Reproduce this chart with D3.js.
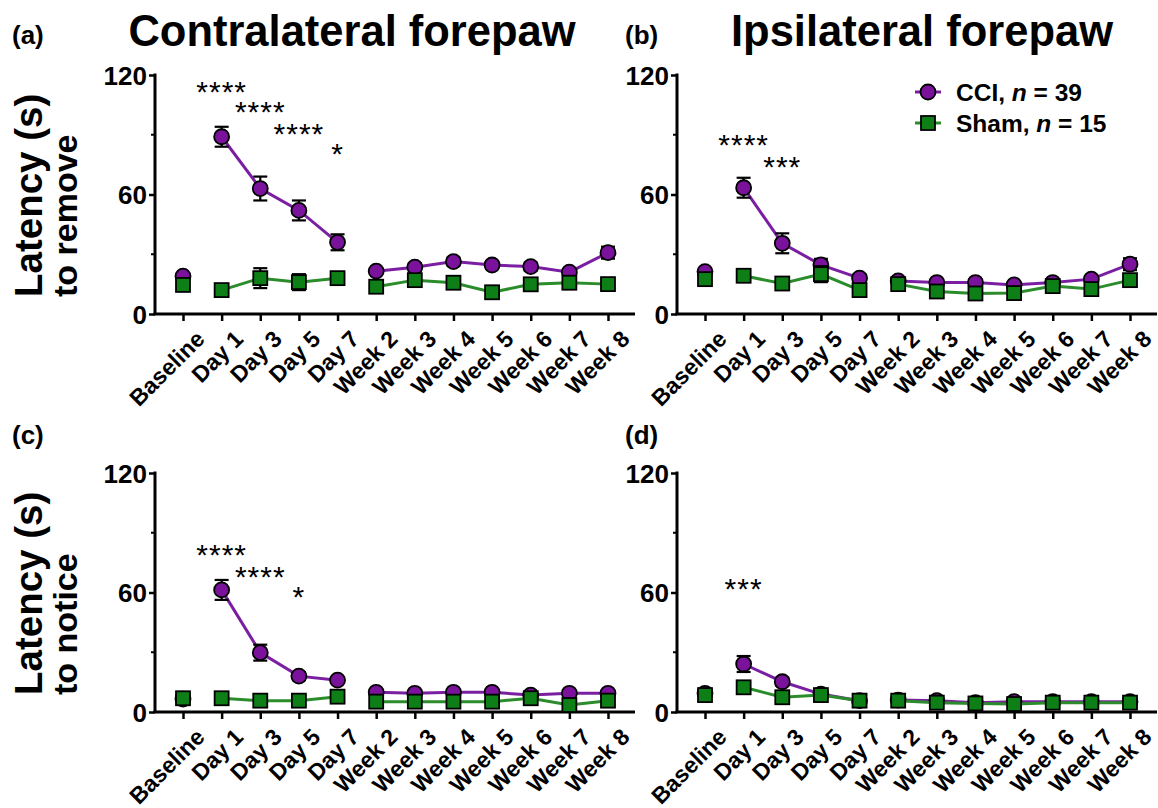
<!DOCTYPE html>
<html>
<head>
<meta charset="utf-8">
<script src="https://cdn.jsdelivr.net/npm/d3@7"></script>
<style>
	body { margin: 0; background: #fff; }
	svg text { font-family: 'Liberation Sans', Arial, sans-serif; font-weight: bold; fill: #000; }
</style>
</head>
<body>
<svg id="chart" width="1158" height="808"></svg>
<script>
const categories = ['Baseline', 'Day 1', 'Day 3', 'Day 5', 'Day 7', 'Week 2', 'Week 3', 'Week 4', 'Week 5', 'Week 6', 'Week 7', 'Week 8'];
const segments = [[0, 0], [1, 4], [5, 11]];
const yTicks = [0, 60, 120];
const yMinorTicks = [30, 90];

// (a) contralateral, latency to remove
const cciA = [19, 89, 63, 52, 36, 21.5, 23.5, 26.3, 24.6, 23.8, 21, 30.8];
const cciAErr = [1.5, 5, 6, 5, 4, 1.5, 2, 2, 2, 2, 1.5, 3];
const shamA = [14.6, 12, 18, 16, 18, 13.7, 17, 15.7, 10.9, 14.9, 15.7, 15];
const shamAErr = [2, 2, 5, 4, 2, 2, 3, 2, 2, 2, 2, 2];
const starsA = [['Day 1', 115.5, '****'], ['Day 3', 105.5, '****'], ['Day 5', 94.5, '****'], ['Day 7', 84.5, '*']];

// (b) ipsilateral, latency to remove
const cciB = [21.3, 63.4, 35.5, 24.7, 18, 16.6, 15.8, 15.8, 14.6, 15.8, 17.5, 25];
const cciBErr = [1.5, 5, 5, 3, 2, 1.5, 1.5, 1.5, 1.5, 1.5, 1.5, 3];
const shamB = [17.5, 19.2, 15.3, 20, 12, 15, 11.3, 10.3, 10.5, 14, 12.5, 17];
const shamBErr = [2, 3, 2, 4, 2, 2, 2, 2, 2, 2, 2, 2];
const starsB = [['Day 1', 89, '****'], ['Day 3', 78, '***']];

// (c) contralateral, latency to notice
const cciC = [6.5, 61.3, 29.8, 18, 16, 9.9, 9.4, 9.9, 9.9, 8.5, 9.4, 9.4];
const cciCErr = [1, 5, 4, 2, 1.5, 1, 1, 1, 1, 1, 1, 1];
const shamC = [6.9, 6.9, 5.7, 5.7, 7.7, 5.2, 5.2, 5.2, 5.2, 6.9, 3.5, 5.7];
const shamCErr = [1, 1, 1, 1, 1.5, 1, 1, 1, 1, 1.5, 1, 1];
const starsC = [['Day 1', 83, '****'], ['Day 3', 72, '****'], ['Day 5', 62, '*']];

// (d) ipsilateral, latency to notice
const cciD = [9.4, 24.1, 15.2, 9, 5.7, 6, 5.7, 4.7, 5.2, 5.2, 5.2, 5.2];
const cciDErr = [1.5, 4, 2, 1, 1, 1, 1, 1, 1, 1, 1, 1];
const shamD = [8.5, 12.4, 7.4, 8.5, 5.7, 5.7, 4.7, 4.3, 4, 4.7, 4.7, 4.7];
const shamDErr = [1.5, 3, 1, 1, 1, 1, 1, 1, 1, 1, 1, 1];
const starsD = [['Day 1', 66, '***']];

const panels = [
	{ left: 155, top: 75, cci: cciA, cciErr: cciAErr, sham: shamA, shamErr: shamAErr, stars: starsA },
	{ left: 677, top: 75, cci: cciB, cciErr: cciBErr, sham: shamB, shamErr: shamBErr, stars: starsB, legend: true },
	{ left: 155, top: 473, cci: cciC, cciErr: cciCErr, sham: shamC, shamErr: shamCErr, stars: starsC },
	{ left: 677, top: 473, cci: cciD, cciErr: cciDErr, sham: shamD, shamErr: shamDErr, stars: starsD },
];

const CCI_FILL = '#7a129c';
const CCI_LINE = '#7b1fa2';
const SHAM_FILL = '#0e7e16';
const SHAM_LINE = '#2b8c2b';
const W = 480, H = 239;

const svg = d3.select('#chart');
const x = d3.scalePoint().domain(categories).range([28, 453]);
const y = d3.scaleLinear().domain([0, 120]).range([H, 0]);

const toPoints = (vals, errs) => vals.map((v, i) => ({ cat: categories[i], v: v, e: errs[i] }));
const line = d3.line().x(d => x(d.cat)).y(d => y(d.v));

function drawSeries(g, pts, lineColor, fill, shape) {
	segments.forEach(([a, b]) => {
		if (b > a) {
			g.append('path')
				.attr('d', line(pts.slice(a, b + 1)))
				.attr('fill', 'none')
				.attr('stroke', lineColor)
				.attr('stroke-width', 3);
		}
	});
	const eb = g.append('g').selectAll('g').data(pts).join('g')
		.attr('stroke', '#000').attr('stroke-width', 2.2);
	eb.append('line')
		.attr('x1', d => x(d.cat)).attr('x2', d => x(d.cat))
		.attr('y1', d => y(d.v - d.e)).attr('y2', d => y(d.v + d.e));
	[-1, 1].forEach(s => {
		eb.append('line')
			.attr('x1', d => x(d.cat) - 7).attr('x2', d => x(d.cat) + 7)
			.attr('y1', d => y(d.v + s * d.e)).attr('y2', d => y(d.v + s * d.e));
	});
	const marks = g.append('g').selectAll('.m').data(pts).join(shape === 'circle' ? 'circle' : 'rect')
		.attr('fill', fill)
		.attr('stroke', '#000')
		.attr('stroke-width', 1.8);
	if (shape === 'circle') {
		marks.attr('cx', d => x(d.cat)).attr('cy', d => y(d.v)).attr('r', 7.5);
	} else {
		marks.attr('x', d => x(d.cat) - 7).attr('y', d => y(d.v) - 7).attr('width', 14).attr('height', 14);
	}
}

panels.forEach(p => {
	const g = svg.append('g').attr('transform', `translate(${p.left},${p.top})`);

	// y axis
	const yAxis = g.append('g')
		.call(d3.axisLeft(y).tickValues(yTicks).tickSize(6).tickPadding(2).tickFormat(d3.format('d')));
	yAxis.select('.domain').attr('stroke-width', 3).attr('d', `M0,-1.5V${H}`);
	yAxis.selectAll('.tick line').attr('stroke-width', 2.5);
	yAxis.selectAll('.tick text').attr('font-size', 26).attr('dy', '0.36em')
		.style('font-family', "'Liberation Sans', Arial, sans-serif").style('font-weight', 'bold');
	g.append('g').selectAll('line').data(yMinorTicks).join('line')
		.attr('x1', -4).attr('x2', 0).attr('y1', d => y(d)).attr('y2', d => y(d))
		.attr('stroke', '#000').attr('stroke-width', 2);

	// x axis
	const xAxis = g.append('g').attr('transform', `translate(0,${H})`)
		.call(d3.axisBottom(x).tickSize(7).tickPadding(4));
	xAxis.select('.domain').attr('stroke-width', 3).attr('d', `M-1.5,0H${W}`);
	xAxis.selectAll('.tick line').attr('stroke-width', 2.5);
	xAxis.selectAll('.tick text')
		.attr('font-size', 23)
		.attr('text-anchor', 'end')
		.attr('dy', '0.35em')
		.attr('transform', 'translate(9,13) rotate(-45)')
		.style('font-family', "'Liberation Sans', Arial, sans-serif").style('font-weight', 'bold');

	const plot = g.append('g');
	drawSeries(plot, toPoints(p.cci, p.cciErr), CCI_LINE, CCI_FILL, 'circle');
	drawSeries(plot, toPoints(p.sham, p.shamErr), SHAM_LINE, SHAM_FILL, 'square');

	g.append('g').selectAll('text').data(p.stars).join('text')
		.attr('x', d => x(d[0]))
		.attr('y', d => y(d[1]))
		.attr('dy', '0.6em')
		.attr('text-anchor', 'middle')
		.attr('font-size', 30)
		.attr('letter-spacing', 1)
		.style('font-weight', 'normal')
		.text(d => d[2]);

	if (p.legend) {
		const items = [
			{ name: 'CCI', n: 39, line: CCI_LINE, fill: CCI_FILL, shape: 'circle' },
			{ name: 'Sham', n: 15, line: SHAM_LINE, fill: SHAM_FILL, shape: 'square' },
		];
		const lg = g.append('g').attr('transform', 'translate(238,17)');
		items.forEach((it, i) => {
			const row = lg.append('g').attr('transform', `translate(0,${i * 31})`);
			row.append('line').attr('x1', 0).attr('x2', 26).attr('stroke', it.line).attr('stroke-width', 3);
			if (it.shape === 'circle') {
				row.append('circle').attr('cx', 13).attr('r', 7.5).attr('fill', it.fill).attr('stroke', '#000').attr('stroke-width', 1.8);
			} else {
				row.append('rect').attr('x', 6).attr('y', -7).attr('width', 14).attr('height', 14).attr('fill', it.fill).attr('stroke', '#000').attr('stroke-width', 1.8);
			}
			const t = row.append('text').attr('x', 41).attr('dy', '0.36em').attr('font-size', 24.5);
			t.append('tspan').text(it.name + ', ');
			t.append('tspan').style('font-style', 'italic').text('n');
			t.append('tspan').text(' = ' + it.n);
		});
	}
});

// titles, panel letters, y labels
const titles = [
	{ text: 'Contralateral forepaw', x: 352, y: 46 },
	{ text: 'Ipsilateral forepaw', x: 922, y: 46 },
];
svg.selectAll('.title').data(titles).join('text')
	.attr('class', 'title')
	.attr('x', d => d.x).attr('y', d => d.y)
	.attr('text-anchor', 'middle')
	.attr('font-size', 43.5)
	.text(d => d.text);

const letters = [['(a)', 12, 44], ['(b)', 625, 44], ['(c)', 12, 444], ['(d)', 625, 444]];
svg.selectAll('.letter').data(letters).join('text')
	.attr('x', d => d[1]).attr('y', d => d[2])
	.attr('font-size', 26)
	.text(d => d[0]);

const yLabels = [
	{ top: 75, lines: ['Latency (s)', 'to remove'] },
	{ top: 473, lines: ['Latency (s)', 'to notice'] },
];
yLabels.forEach(l => {
	const t = svg.append('text')
		.attr('transform', `translate(0,${l.top + 222}) rotate(-90)`);
	l.lines.forEach((s, i) => {
		t.append('tspan').attr('x', 0).attr('y', 42 + i * 35)
			.attr('font-size', i === 0 ? 38.5 : 34)
			.text(s);
	});
});
</script>
</body>
</html>
